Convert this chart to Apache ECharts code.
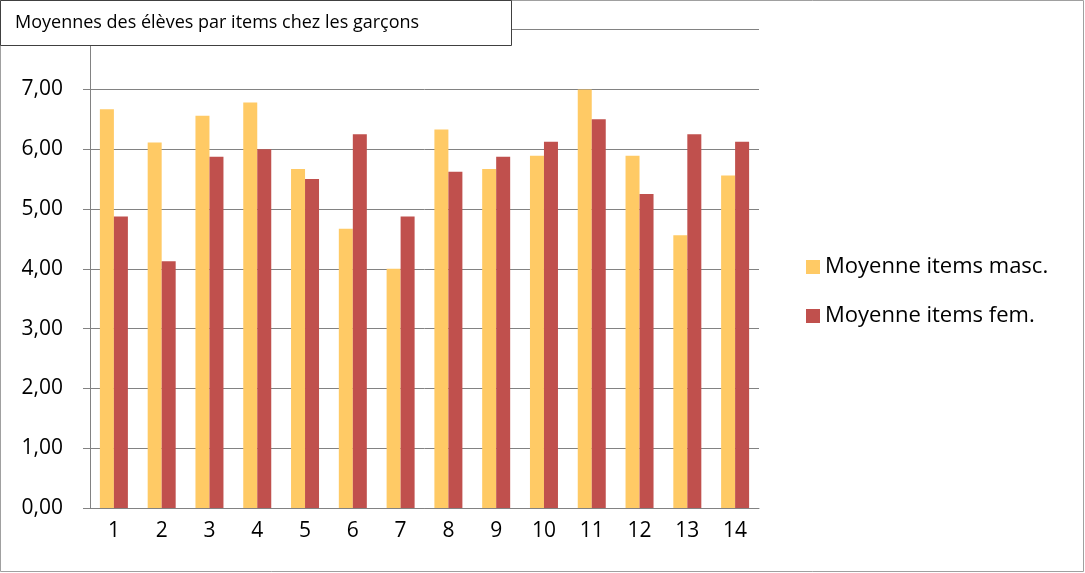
<!DOCTYPE html>
<html>
<head>
    <meta charset="utf-8">
    <title>Moyennes des élèves</title>
    <script src="https://cdn.jsdelivr.net/npm/echarts@6/dist/echarts.min.js"></script>
</head>
<body style="margin:0">
<style type="text/css">
#chart{width:1085px; height:573px;}
</style>
    <div id="chart"></div>
    <script type="text/javascript">
        // données
        var items = ['1','2','3','4','5','6','7','8','9','10','11','12','13','14'];
        var masc = [6.67, 6.11, 6.56, 6.78, 5.67, 4.67, 4.00, 6.33, 5.67, 5.89, 7.00, 5.89, 4.56, 5.56];
        var fem = [4.875, 4.125, 5.875, 6.00, 5.50, 6.25, 4.875, 5.625, 5.875, 6.125, 6.50, 5.25, 6.25, 6.125];
        var nomMasc = 'Moyenne items masc.';
        var nomFem = 'Moyenne items fem.';
        var titre = 'Moyennes des élèves par items chez les garçons';

        var police = 'Open Sans';
        var gris = '#828282';
        var chart = echarts.init(document.getElementById('chart'));
        chart.setOption({
            animation: false,
            backgroundColor: '#fff',
            title: {
                text: titre,
                left: 0,
                top: 0,
                padding: [13, 15, 13, 15],
                backgroundColor: '#fff',
                borderColor: '#404040',
                borderWidth: 1,
                textStyle: {
                    fontFamily: police,
                    fontSize: 18,
                    fontWeight: 'normal',
                    color: '#000',
                    lineHeight: 20,
                    width: 482
                }
            },
            graphic: [{
                type: 'rect',
                z: -1,
                shape: {x: 0.5, y: 0.5, width: 1083, height: 571},
                style: {fill: 'none', stroke: '#a0a0a0', lineWidth: 1}
            }],
            legend: {
                orient: 'vertical',
                left: 801,
                top: 249,
                itemWidth: 14,
                itemHeight: 14,
                itemGap: 23,
                icon: 'rect',
                textStyle: {fontFamily: police, fontSize: 22, color: '#000', lineHeight: 26},
                data: [nomMasc, nomFem]
            },
            grid: {left: 90, right: 326, top: 29.6, bottom: 65},
            xAxis: {
                type: 'category',
                data: items,
                axisLine: {lineStyle: {color: gris, width: 1}},
                axisTick: {length: 7, lineStyle: {color: gris}},
                axisLabel: {fontFamily: police, fontSize: 21, color: '#000', margin: 13}
            },
            yAxis: {
                type: 'value',
                min: 0,
                max: 8,
                interval: 1,
                axisLine: {show: true, lineStyle: {color: gris}},
                axisTick: {show: true, length: 7, lineStyle: {color: gris}},
                splitLine: {lineStyle: {color: gris, width: 1}},
                axisLabel: {
                    fontFamily: police, fontSize: 21, color: '#000', margin: 27,
                    formatter: function (v) { return v.toFixed(2).replace('.', ','); }
                }
            },
            series: [{
                name: nomMasc,
                type: 'bar',
                data: masc,
                barWidth: 14,
                barGap: '0%',
                itemStyle: {color: '#FFCA65'}
            }, {
                name: nomFem,
                type: 'bar',
                data: fem,
                barWidth: 14,
                itemStyle: {color: '#C0504D'}
            }]
        });
    </script>
</body>
</html>
